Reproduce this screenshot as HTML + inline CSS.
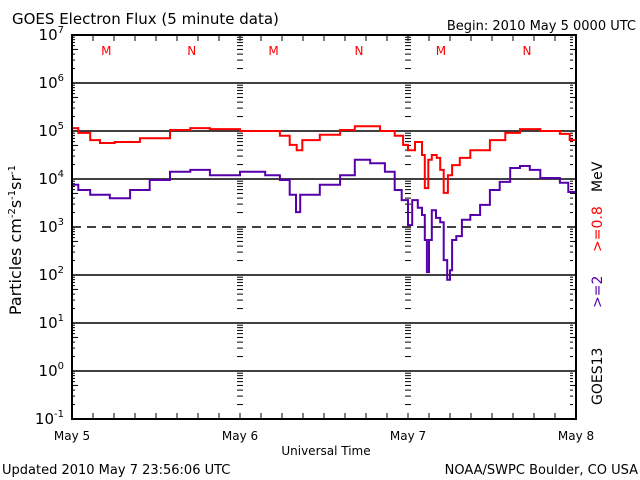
<!DOCTYPE html>
<html><head><meta charset="utf-8"><style>
body{margin:0;background:#fff;}
svg{display:block;font-family:"DejaVu Sans","Liberation Sans",sans-serif;}
</style></head><body>
<svg id="chart" width="640" height="480">
<text x="12" y="24" font-size="15">GOES Electron Flux (5 minute data)</text>
<text x="636" y="30" font-size="13" text-anchor="end">Begin: 2010 May 5 0000 UTC</text>
<text x="2" y="474" font-size="13">Updated 2010 May  7 23:56:06 UTC</text>
<text x="638" y="474" font-size="13" text-anchor="end">NOAA/SWPC Boulder, CO USA</text>
<text x="326" y="455" font-size="12" text-anchor="middle">Universal Time</text>
<text transform="translate(21,240) rotate(-90)" font-size="16" text-anchor="middle">Particles cm<tspan dy="-6" font-size="10">-2</tspan><tspan dy="6">s</tspan><tspan dy="-6" font-size="10">-1</tspan><tspan dy="6">sr</tspan><tspan dy="-6" font-size="10">-1</tspan></text>
<text transform="translate(602,405) rotate(-90)" font-size="14">GOES13</text>
<text transform="translate(602,308) rotate(-90)" font-size="14" fill="#5500aa">&gt;=2</text>
<text transform="translate(602,252) rotate(-90)" font-size="14" fill="#ff0000">&gt;=0.8</text>
<text transform="translate(602,192) rotate(-90)" font-size="14">MeV</text>
<g id="grid"></g><g id="series"></g>
<rect x="72" y="35" width="504" height="384" fill="none" stroke="#000" stroke-width="2"/>
</svg>
<script>
const dayLabels=["May 5","May 6","May 7","May 8"];
const yTickExps=[7,6,5,4,3,2,1,0,-1];
const markerLetters=["M","N","M","N","M","N"];
const markerHours=[4.9,17.1,28.8,41,52.7,65];
const redHours=[0,0.9,2.6,4,6.1,9.7,14,16.9,19.7,24,28.3,29.7,31.1,32.1,32.9,35.4,38.3,40.4,44,46.1,47.3,48,49,50,50.4,50.9,51.4,52.1,52.6,53.1,53.7,54.3,55.4,56.9,59.7,61.9,64,66.9,69.7,71.1,72];
const redLog=[5.06,4.96,4.81,4.75,4.77,4.85,5.02,5.06,5.04,5.0,5.0,4.9,4.71,4.6,4.81,4.92,5.02,5.1,5.0,4.9,4.71,4.6,4.77,4.5,3.81,4.4,4.5,4.44,4.19,3.71,4.08,4.29,4.44,4.6,4.81,4.96,5.04,5.0,4.94,4.81,4.65];
const purHours=[0,0.9,2.6,5.4,8.3,11.1,14,16.9,19.7,24,27.6,29.7,31.1,32,32.6,35.4,38.3,40.4,42.6,44.7,46.1,47.1,48,48.6,49.4,50,50.4,50.7,51,51.4,52,52.6,53.1,53.6,54,54.3,54.9,55.7,56.9,58.3,59.7,61.1,62.6,64,65.4,66.9,68.3,69.7,70.9,72];
const purLog=[3.88,3.77,3.67,3.6,3.77,3.98,4.15,4.19,4.08,4.15,4.08,3.98,3.67,3.31,3.67,3.88,4.08,4.4,4.33,4.15,3.77,3.56,3.04,3.56,3.4,3.25,2.73,2.06,2.73,3.35,3.19,3.1,2.31,1.9,2.1,2.73,2.81,3.15,3.25,3.46,3.77,3.94,4.23,4.27,4.19,4.02,4.02,3.92,3.73,3.46];
const X=h=>72+h*7, Y=l=>35+(7-l)*48;
const NS="http://www.w3.org/2000/svg";
const g=document.getElementById('grid'), s=document.getElementById('series');
function mk(tag,at,p){const e=document.createElementNS(NS,tag);for(const k in at)e.setAttribute(k,at[k]);p.appendChild(e);return e;}
yTickExps.forEach(e=>{
  const y=Y(e);
  if(e<7&&e>-1){const ln=mk('line',{x1:72,x2:576,y1:y,y2:y,stroke:'#000','stroke-width':1.5},g);
  if(e===3)ln.setAttribute('stroke-dasharray','9,6');
  
  }
  const t=mk('text',{x:64,y:y+5,'font-size':15,'text-anchor':'end'},g);
  t.innerHTML='10<tspan dy="-7" font-size="10">'+e+'</tspan>';
  
  
  if(e>-1){for(let k=2;k<10;k++){const yy=y+48-Math.log10(k)*48;
    [[72,78],[570,576],[237,243],[405,411]].forEach(([a,b])=>{
      const l=mk('line',{x1:a,x2:(k===5||a>=237&&a<570?b:b-3),y1:yy,y2:yy,stroke:'#000','stroke-width':1},g);
      
      });}}
});
for(let h=0;h<=72;h+=3){const x=X(h);
  const l=mk('line',{x1:x,x2:x,y1:413,y2:419,stroke:'#000'},g);
  
  const l2=mk('line',{x1:x,x2:x,y1:35,y2:41,stroke:'#000'},g);
  }
dayLabels.forEach((d,i)=>{const t=mk('text',{x:X(i*24),y:440,'font-size':12,'text-anchor':'middle'},g);
  t.textContent=d;});
markerLetters.forEach((m,i)=>{const t=mk('text',{x:X(markerHours[i]),y:55,'font-size':12,'text-anchor':'middle',fill:'#ff0000'},g);
  t.textContent=m;});
function draw(hs,ls,col,name){let d='';hs.forEach((h,i)=>{
    if(i===0)d+='M'+X(h).toFixed(1)+','+Y(ls[i]).toFixed(1);
    else d+='H'+X(h).toFixed(1)+'V'+Y(ls[i]).toFixed(1);});
  const p=mk('path',{d:d,fill:'none',stroke:col,'stroke-width':2},s);
  }
draw(redHours,redLog,'#ff0000','series-ge08-mev');
draw(purHours,purLog,'#5500aa','series-ge2-mev');
</script>
</body></html>
